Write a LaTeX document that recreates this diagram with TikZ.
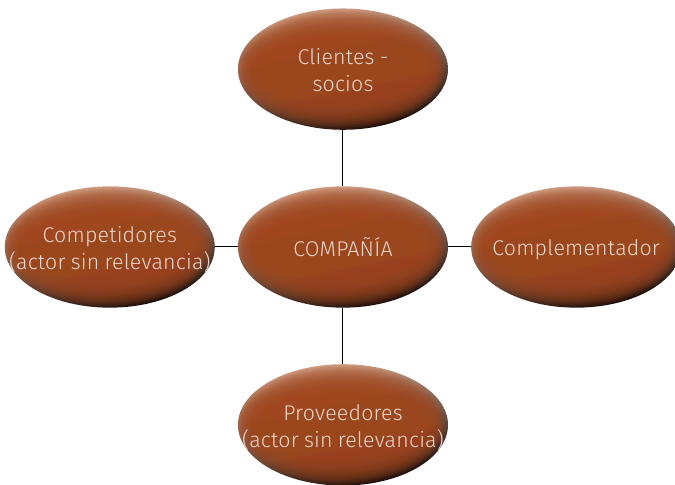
\documentclass[tikz,border=0pt]{standalone}
\usepackage{fontspec}
\setmainfont{Fira Sans Light}[LetterSpace=1, WordSpace=0.85]
\usetikzlibrary{positioning,shapes.geometric}

\definecolor{siena}{RGB}{161,71,30}
\definecolor{rimlight}{RGB}{228,184,160}
\definecolor{rimdark}{RGB}{20,7,2}
\definecolor{rosetext}{RGB}{240,214,202}

% text that does not widen the ellipse
\newcommand{\actorname}[1]{\raisebox{-7pt}[0pt][0pt]{\makebox[0pt]{\begin{tabular}{@{}c@{}}#1\end{tabular}}}}

\begin{document}
\begin{tikzpicture}[
      node distance=42pt and 17pt,
      actor/.style={ellipse, minimum width=157.5pt, minimum height=91pt, inner sep=0pt,
                    font=\fontsize{16}{20}\selectfont, text=rosetext,
                    top color=rimlight, middle color=siena, bottom color=rimdark, shading angle=12,
                    path picture={
                      \foreach \k in {0,...,19}
                        \fill[siena, opacity=0.13] ([shift={(-2pt,0.5pt)}]path picture bounding box.center)
                          ellipse ({78.75pt-0.7pt*\k} and {45.5pt-1.15pt*\k});
                    }},
      link/.style={draw=black, line width=0.75pt}
    ]
    \useasboundingbox (-257.25pt,185.25pt) rectangle (249pt,-178.5pt);
    \node[actor] (compania) {\actorname{COMPAÑÍA}};
    \node[actor, above=of compania] (clientes) {\actorname{Clientes -\\socios}};
    \node[actor, below=of compania] (proveedores) {\actorname{Proveedores\\(actor sin relevancia)}};
    \node[actor, left=of compania] (competidores) {\actorname{Competidores\\(actor sin relevancia)}};
    \node[actor, right=of compania] (complementador) {\actorname{Complementador}};

    \draw[link] (clientes) -- (compania);
    \draw[link] (compania) -- (proveedores);
    \draw[link] (competidores) -- (compania);
    \draw[link] (compania) -- (complementador);
  \end{tikzpicture}
\end{document}
